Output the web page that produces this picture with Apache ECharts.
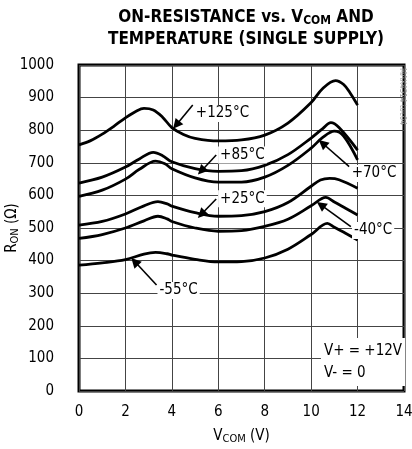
<!DOCTYPE html>
<html>
<head>
<meta charset="utf-8">
<script src="https://cdn.jsdelivr.net/npm/echarts@6/dist/echarts.min.js"></script>
<style>
  html, body { margin: 0; padding: 0; background: #fff; }
  #chart { width: 412px; height: 449px; }
</style>
</head>
<body>
<div id="chart"></div>
<script>
/**************** curve data (V_COM in V, R_ON in ohm) ****************/
var v125 = [0, 0.5, 1, 1.5, 2, 2.5, 2.8, 3.2, 3.6, 4, 4.5, 5, 6, 7, 8, 9, 10, 10.5, 11.05, 11.4, 11.7, 12];
var r125 = [755, 768, 788, 812, 838, 860, 867, 862, 840, 808, 787, 775, 767, 770, 785, 822, 885, 928, 952, 940, 912, 877];

var v85 = [0, 1, 2, 2.6, 3.2, 3.6, 4, 5, 6, 7, 8, 9, 10, 10.5, 10.85, 11.2, 12];
var r85 = [638, 656, 687, 712, 732, 722, 703, 682, 674, 676, 692, 725, 776, 805, 823, 808, 739];

var v70 = [0, 1, 2, 2.6, 3.3, 3.7, 4, 5, 6, 7, 8, 9, 10, 10.5, 11, 11.4, 12];
var r70 = [597, 616, 650, 680, 705, 697, 682, 654, 641, 641, 656, 692, 745, 778, 797, 782, 709];

var v25 = [0, 1, 2, 2.8, 3.4, 3.8, 4, 5, 6, 7, 8, 9, 10, 10.4, 10.8, 11.2, 12];
var r25 = [509, 520, 543, 568, 581, 574, 567, 547, 536, 538, 550, 578, 628, 647, 652, 648, 622];

var vm40 = [0, 1, 2, 2.8, 3.4, 3.8, 4, 5, 6, 7, 8, 9, 10, 10.63, 11, 11.5, 12];
var rm40 = [468, 480, 500, 522, 536, 528, 520, 500, 490, 492, 505, 527, 568, 594, 580, 560, 540];

var vm55 = [0, 1, 2, 2.8, 3.3, 3.8, 4, 5, 6, 7, 8, 9, 10, 10.7, 11, 11.5, 12];
var rm55 = [386, 393, 403, 420, 425, 421, 417, 404, 396, 397, 408, 435, 480, 514, 502, 483, 463];

var tempNames = ['+125°C', '+85°C', '+70°C', '+25°C', '-40°C', '-55°C'];

var xTicks = [0, 2, 4, 6, 8, 10, 12, 14];
var yTicks = [0, 100, 200, 300, 400, 500, 600, 700, 800, 900, 1000];

var supplyText = ['V+ = +12V', 'V- = 0'];

var FONT = '"Liberation Sans Narrow", "DejaVu Sans Condensed", "Liberation Sans", Arial, sans-serif';

function zip(xs, ys) {
  var out = [];
  for (var i = 0; i < xs.length; i++) out.push([xs[i], ys[i]]);
  return out;
}

// label position [V, ohm], arrow tail, arrow tip
var notes = [
  { text: tempNames[0], at: [6.18, 851], from: [4.9, 877], to: [4.19, 816] },
  { text: tempNames[1], at: [7.04, 724], from: [5.91, 724], to: [5.27, 675] },
  { text: tempNames[2], at: [12.71, 667], from: [11.64, 688], to: [10.49, 760] },
  { text: tempNames[3], at: [7.04, 590], from: [5.91, 589], to: [5.27, 542] },
  { text: tempNames[4], at: [12.67, 492], from: [11.71, 504], to: [10.42, 571] },
  { text: tempNames[5], at: [4.29, 308], from: [3.34, 325], to: [2.40, 397] }
];

var curves = [
  zip(v125, r125), zip(v85, r85), zip(v70, r70),
  zip(v25, r25), zip(vm40, rm40), zip(vm55, rm55)
];

var series = curves.map(function (d, i) {
  var n = notes[i];
  return {
    name: tempNames[i],
    type: 'line',
    data: d,
    smooth: 0.35,
    symbol: 'none',
    lineStyle: { color: '#000', width: 2.8 },
    z: 3,
    markPoint: {
      silent: true,
      symbol: 'rect',
      symbolSize: 1,
      itemStyle: { color: 'rgba(0,0,0,0)' },
      label: {
        show: true,
        position: 'inside',
        formatter: n.text,
        color: '#000',
        fontFamily: FONT,
        fontSize: 15,
        backgroundColor: '#fff',
        padding: [1, 2]
      },
      data: [{ coord: n.at }]
    },
    markLine: {
      silent: true,
      symbol: ['none', 'triangle'],
      symbolSize: 10,
      lineStyle: { color: '#000', width: 1.6, type: 'solid' },
      itemStyle: { color: '#000' },
      label: { show: false },
      data: [[{ coord: n.from }, { coord: n.to }]]
    }
  };
});

// supply conditions box
series.push({
  type: 'line',
  data: [],
  markPoint: {
    silent: true,
    symbol: 'rect',
    symbolSize: 1,
    itemStyle: { color: 'rgba(0,0,0,0)' },
    label: {
      show: true,
      position: 'right',
      distance: 0,
      formatter: supplyText.join('\n'),
      color: '#000',
      fontFamily: FONT,
      fontSize: 15,
      lineHeight: 22,
      backgroundColor: '#fff',
      padding: [2, 3]
    },
    data: [{ coord: [10.4, 89] }]
  }
});

var myChart = echarts.init(document.getElementById('chart'), null, { renderer: 'canvas' });

var option = {
  animation: false,
  backgroundColor: '#fff',
  title: {
    left: 241,
    top: 2,
    textAlign: 'center',
    text: '{b|ON-RESISTANCE vs. V}{s|COM}{b| AND}\n{b|TEMPERATURE (SINGLE SUPPLY)}',
    textStyle: {
      rich: {
        b: { fontFamily: FONT, fontWeight: 'bold', fontSize: 17, color: '#000', lineHeight: 22 },
        s: { fontFamily: FONT, fontWeight: 'bold', fontSize: 12, color: '#000', lineHeight: 22, padding: [6, 0, 0, 0] }
      }
    }
  },
  grid: {
    left: 79, right: 8, top: 65, bottom: 58,
    outerBoundsMode: 'none',
    containLabel: false,
    show: true, borderColor: '#000', borderWidth: 3
  },
  xAxis: {
    type: 'value', min: 0, max: 14, interval: 2,
    axisLine: { show: false }, axisTick: { show: false },
    splitLine: { show: true, lineStyle: { color: '#444', width: 1 } },
    axisLabel: {
      margin: 14, color: '#000', fontFamily: FONT, fontSize: 15,
      formatter: function (v) { return xTicks.indexOf(v) >= 0 ? String(v) : ''; }
    },
    name: '{m|V}{s|COM}{m| (V)}',
    nameLocation: 'middle',
    nameGap: 37,
    nameMoveOverlap: false,
    nameTextStyle: {
      rich: {
        m: { fontFamily: FONT, fontSize: 15, color: '#000' },
        s: { fontFamily: FONT, fontSize: 11, color: '#000', padding: [6, 0, 0, 0] }
      }
    }
  },
  yAxis: {
    type: 'value', min: 0, max: 1000, interval: 100,
    axisLine: { show: false }, axisTick: { show: false },
    splitLine: { show: true, lineStyle: { color: '#444', width: 1 } },
    axisLabel: {
      margin: 25, color: '#000', fontFamily: FONT, fontSize: 15,
      formatter: function (v) { return yTicks.indexOf(v) >= 0 ? String(v) : ''; }
    },
    name: '{m|R}{s|ON}{m| (Ω)}',
    nameLocation: 'middle',
    nameGap: 58,
    nameRotate: 90,
    nameMoveOverlap: false,
    nameTextStyle: {
      rich: {
        m: { fontFamily: FONT, fontSize: 15, color: '#000' },
        s: { fontFamily: FONT, fontSize: 11, color: '#000', padding: [6, 0, 0, 0] }
      }
    }
  },
  graphic: [{
    type: 'text',
    x: 406, y: 68,
    rotation: -Math.PI / 2,
    style: { text: 'MAX4514 toc04', font: '8px ' + FONT, fill: '#aaa' },
    originX: 0, originY: 0
  }],
  series: series
};

myChart.setOption(option);
</script>
</body>
</html>
